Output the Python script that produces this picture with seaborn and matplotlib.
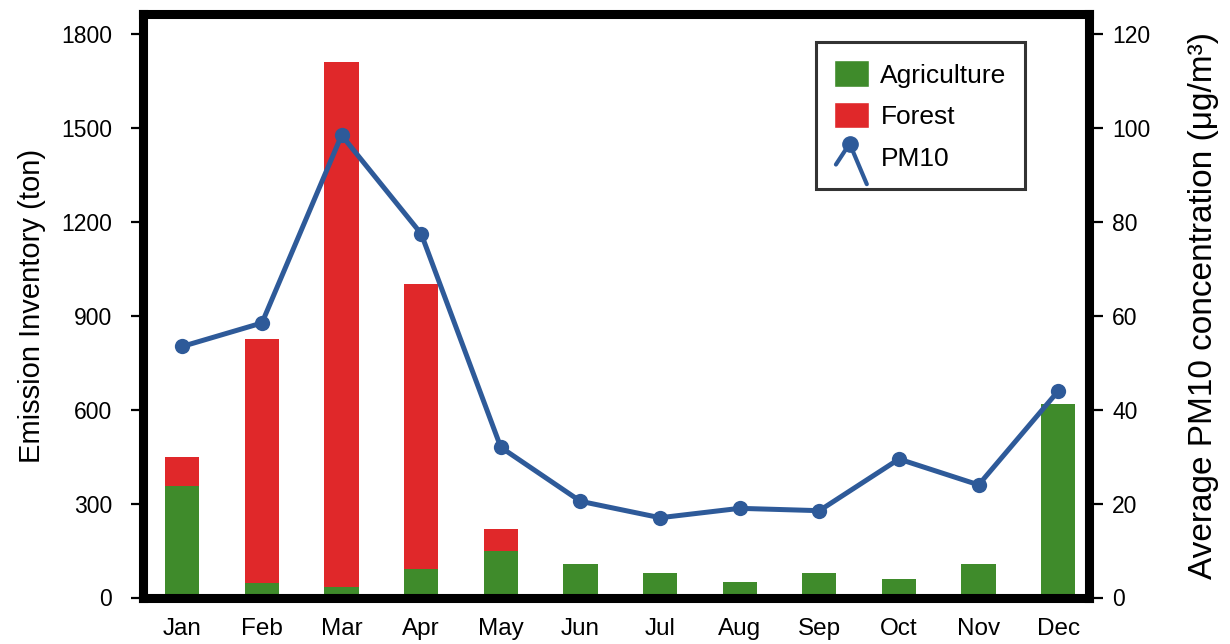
import matplotlib
matplotlib.use("Agg")
import matplotlib.pyplot as plt
import seaborn as sns
import numpy as np
import pandas as pd
from matplotlib.patches import Patch
from matplotlib.lines import Line2D
from matplotlib.legend_handler import HandlerBase

months = ['Jan', 'Feb', 'Mar', 'Apr', 'May', 'Jun', 'Jul', 'Aug', 'Sep', 'Oct', 'Nov', 'Dec']
agriculture = [355, 45, 35, 92, 150, 108, 78, 48, 78, 58, 108, 620]
forest = [95, 780, 1675, 910, 70, 0, 0, 0, 0, 0, 0, 0]
pm10 = [53.5, 58.5, 98.5, 77.5, 32, 20.5, 17, 19, 18.5, 29.5, 24, 44]

green = '#3f8b2b'
red = '#e0282a'
blue = '#2e5a99'


class TiltedLineHandler(HandlerBase):
    # small bent line with a dot on top, like the PM10 key in the original
    def create_artists(self, legend, orig_handle, xdescent, ydescent,
                       width, height, fontsize, trans):
        x0, y0 = -xdescent, -ydescent
        xs = [x0 + 0.05 * width, x0 + 0.45 * width, x0 + 0.95 * width]
        ys = [y0 + 0.2 * height, y0 + 1.0 * height, y0 - 0.55 * height]
        line = Line2D(xs, ys, color=orig_handle.get_color(), linewidth=3,
                      solid_capstyle='round', transform=trans)
        dot = Line2D([xs[1]], [ys[1]], marker='o', markersize=11,
                     color=orig_handle.get_color(), linestyle='none', transform=trans)
        return [line, dot]


sns.set_theme(style='white')
plt.rcParams['font.family'] = ['Liberation Sans', 'DejaVu Sans']
plt.rcParams.update({'text.color': 'black', 'axes.labelcolor': 'black',
                     'xtick.color': 'black', 'ytick.color': 'black'})

df = pd.DataFrame({'month': months, 'agriculture': agriculture, 'forest': forest})
df['total'] = df['agriculture'] + df['forest']

fig = plt.figure(figsize=(12.3, 6.44), dpi=100)
ax = fig.add_axes([142.5 / 1230, 1 - 597.5 / 644, 946 / 1230, 583.5 / 644])

# stacked bars: total in red, agriculture drawn over it in green
sns.barplot(data=df, x='month', y='total', color=red, width=0.43, saturation=1,
            linewidth=0, ax=ax)
sns.barplot(data=df, x='month', y='agriculture', color=green, width=0.43, saturation=1,
            linewidth=0, ax=ax)

ax.set_xlim(-0.5, 11.38)
ax.set_ylim(0, 1865)
ax.set_yticks(range(0, 1801, 300))
ax.set_xlabel('')
ax.set_ylabel('Emission Inventory (ton)', fontsize=21, labelpad=11)
ax.tick_params(axis='y', labelsize=16.5, length=9, width=1.6, direction='out',
               left=True, pad=13)
ax.tick_params(axis='x', labelsize=17.5, length=0, pad=15)

ax2 = ax.twinx()
sns.lineplot(x=np.arange(len(months)), y=pm10, color=blue, linewidth=3.6,
             marker='o', markersize=11, markeredgewidth=0, ax=ax2)
ax2.set_ylim(0, 1865 / 15)
ax2.set_yticks(range(0, 121, 20))
ax2.set_ylabel('Average PM10 concentration (μg/m³)', fontsize=24, labelpad=27)
ax2.tick_params(axis='y', labelsize=16.5, length=10, width=1.6, direction='out',
                right=True, pad=7)

for a in (ax, ax2):
    for s in a.spines.values():
        s.set_linewidth(6.5)
        s.set_color('black')

pm_handle = Line2D([0], [0], color=blue, label='PM10')
handles = [Patch(facecolor=green, label='Agriculture'),
           Patch(facecolor=red, label='Forest'),
           pm_handle]
leg = ax2.legend(handles=handles, loc='upper right', bbox_to_anchor=(0.933, 0.952),
                 borderaxespad=0, fontsize=19, frameon=True, fancybox=False,
                 edgecolor='black', handlelength=1.3, handleheight=1.15,
                 handletextpad=0.45, borderpad=0.7, labelspacing=0.55,
                 handler_map={pm_handle: TiltedLineHandler()})
leg.get_frame().set_linewidth(2.2)

fig.savefig('out.png', dpi=100)
